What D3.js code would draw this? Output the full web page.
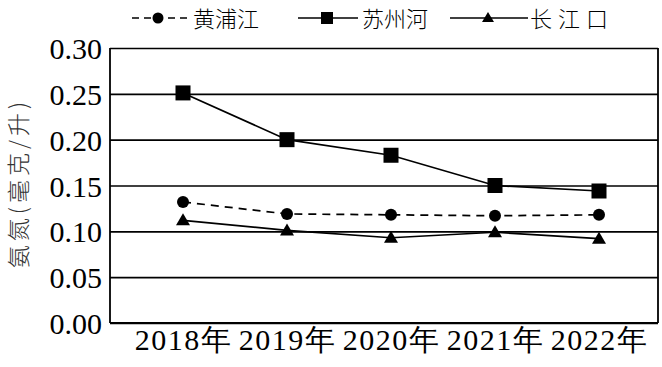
<!DOCTYPE html>
<html><head><meta charset="utf-8">
<script src="https://cdn.jsdelivr.net/npm/d3@7"></script>
<style>
body{margin:0;background:#fff;}
svg{display:block;}
</style></head>
<body><svg id="c" width="662" height="367"></svg>
<script>
const years = ["2018年","2019年","2020年","2021年","2022年"];
const huangpu = [0.132,0.119,0.118,0.117,0.118];
const suzhou = [0.251,0.200,0.183,0.150,0.144];
const changjiang = [0.112,0.101,0.093,0.099,0.092];
const yTicks = [0,0.05,0.10,0.15,0.20,0.25,0.30];
const yTickLabels = ["0.00","0.05","0.10","0.15","0.20","0.25","0.30"];
const seriesNames = ["黄浦江","苏州河","长江口"];
const yTitle = "氨氮(毫克/升)";

const svg = d3.select("#c");
const L=110, R=658, T=48, B=323;
const x = d3.scalePoint().domain(years).range([183,599]);
const y = d3.scaleLinear().domain([0,0.3]).range([B,T]);
const SERIF = "Liberation Serif";

// gridlines + y axis
const ya = svg.append("g").attr("transform",`translate(${L},0)`)
  .call(d3.axisLeft(y).tickValues(yTicks).tickSize(-(R-L)).tickSizeOuter(0)
    .tickFormat((d,i)=>yTickLabels[i]));
ya.attr("font-family",SERIF).attr("font-size",30);
ya.select(".domain").remove();
ya.selectAll(".tick line").attr("stroke","#000").attr("stroke-width",1.6);
ya.selectAll(".tick text").attr("x",-8).attr("dy","0.35em")
  .attr("font-family",SERIF).attr("font-size",30).attr("fill","#000");

// frame (left, right, bottom)
svg.append("line").attr("x1",L).attr("x2",L).attr("y1",T).attr("y2",B).attr("stroke","#000").attr("stroke-width",1.8);
svg.append("line").attr("x1",R).attr("x2",R).attr("y1",T).attr("y2",B).attr("stroke","#000").attr("stroke-width",1.8);
svg.append("line").attr("x1",L).attr("x2",R).attr("y1",B).attr("y2",B).attr("stroke","#000").attr("stroke-width",1.8);

// x labels
const xa = svg.append("g").attr("transform",`translate(0,${B})`)
  .call(d3.axisBottom(x).tickSize(0));
xa.attr("font-family",SERIF).attr("font-size",30);
xa.select(".domain").remove();
xa.selectAll(".tick text").attr("y",27).attr("dy",0)
  .attr("font-family",SERIF).attr("font-size",30).attr("fill","#000")
  .attr("letter-spacing",1.5);

// y title
svg.append("text").attr("transform","translate(27,183) rotate(-90)")
  .attr("text-anchor","middle").attr("font-family","Noto Sans CJK SC")
  .attr("font-weight",300).attr("font-size",23).attr("fill","#333")
  .attr("letter-spacing",4).text(yTitle);

const line = d3.line().x((d,i)=>x(years[i])).y(d=>y(d));
function drawSeries(vals, dash, marker){
  svg.append("path").datum(vals).attr("d",line).attr("fill","none")
    .attr("stroke","#000").attr("stroke-width",1.7).attr("stroke-dasharray",dash);
  vals.forEach((v,i)=>marker(svg, x(years[i]), y(v)));
}
const circle=(g,cx,cy)=>g.append("circle").attr("cx",cx).attr("cy",cy).attr("r",6).attr("fill","#000");
const square=(g,cx,cy)=>g.append("rect").attr("x",cx-7.5).attr("y",cy-7.5).attr("width",15).attr("height",15).attr("fill","#000");
const tri=(g,cx,cy)=>g.append("path").attr("d",`M${cx},${cy-7}L${cx+7},${cy+5}L${cx-7},${cy+5}Z`).attr("fill","#000");

drawSeries(changjiang,null,tri);
drawSeries(huangpu,"8,6",circle);
drawSeries(suzhou,null,square);

// legend
const lg = [
  {x1:132,x2:190,mx:158,dash:"7,5",tx:193,ls:0,name:seriesNames[0]},
  {x1:298,x2:358,mx:327,dash:null,tx:362,ls:0,name:seriesNames[1]},
  {x1:450,x2:528,mx:488,dash:null,tx:530,ls:6,name:seriesNames[2]}
];
const ly=18;
lg.forEach((d,i)=>{
  svg.append("line").attr("x1",d.x1).attr("x2",d.x2).attr("y1",ly).attr("y2",ly)
    .attr("stroke","#000").attr("stroke-width",1.7).attr("stroke-dasharray",d.dash);
  if(i===1){svg.append("rect").attr("x",d.mx-6).attr("y",ly-6).attr("width",12).attr("height",12).attr("fill","#000");}
  else if(i===0){svg.append("circle").attr("cx",d.mx).attr("cy",ly).attr("r",5.5).attr("fill","#000");}
  else {svg.append("path").attr("d",`M${d.mx},${ly-6}L${d.mx+6},${ly+4}L${d.mx-6},${ly+4}Z`).attr("fill","#000");}
  svg.append("text").attr("x",d.tx).attr("y",ly+9).attr("font-family","Noto Sans CJK SC")
    .attr("font-weight",300).attr("font-size",22).attr("fill","#000")
    .attr("letter-spacing",d.ls).text(d.name);
});
</script></body></html>
